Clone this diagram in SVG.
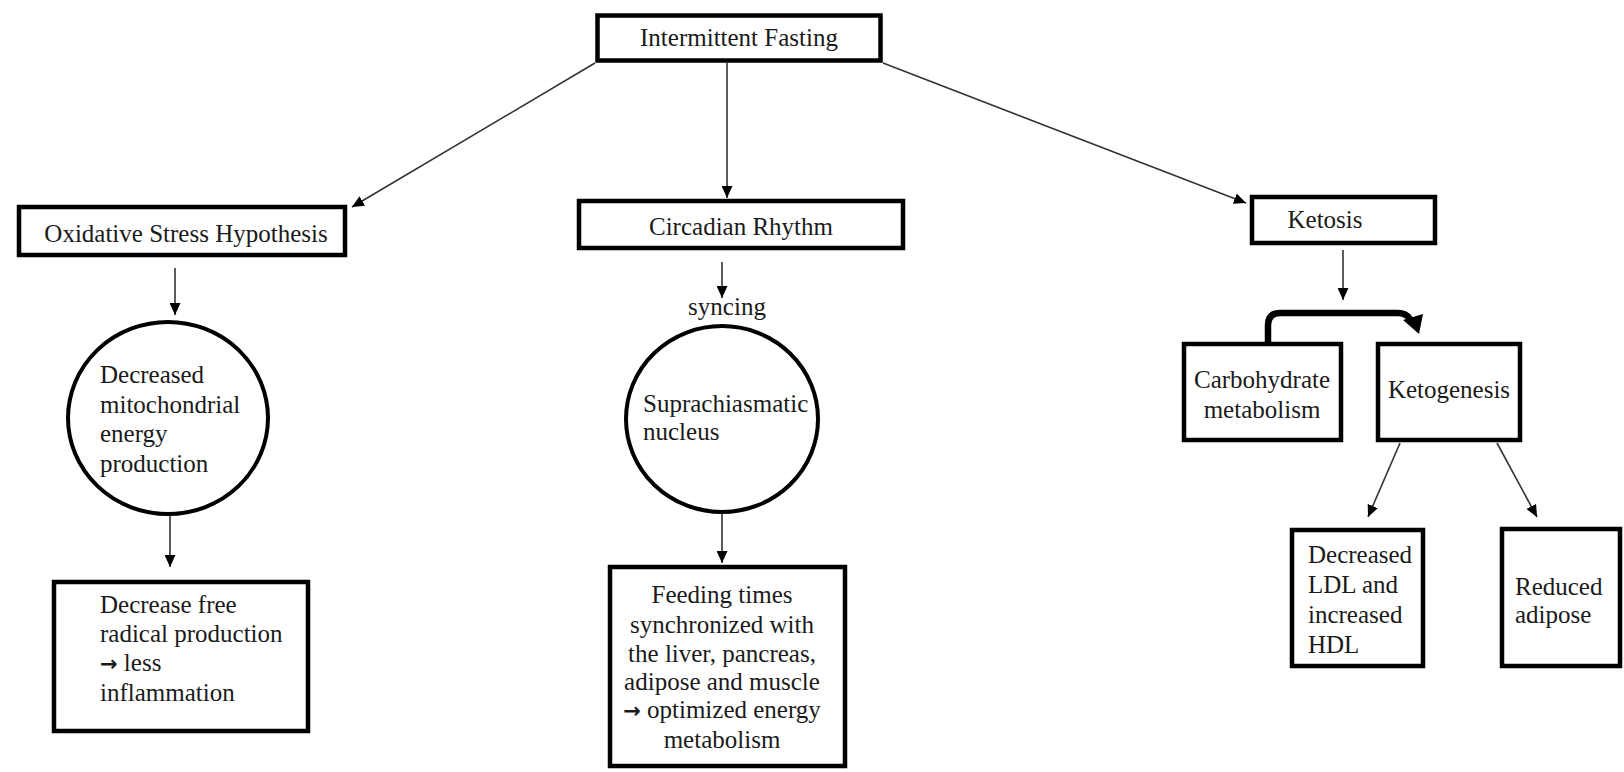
<svg xmlns="http://www.w3.org/2000/svg" width="1624" height="772" viewBox="0 0 1624 772">
<style>
.box{fill:#fff;stroke:#000;stroke-width:4.5}
.circ{fill:#fff;stroke:#000;stroke-width:4}
.t{font-family:"Liberation Serif","Times New Roman",serif;font-size:25px;fill:#1a1a1a}
.c{text-anchor:middle}
.arr{font-family:"DejaVu Sans",sans-serif;font-size:21px;font-weight:bold}
.ln{stroke:#333;stroke-width:1.6;fill:none;marker-end:url(#ah)}
</style>
<defs>
<marker id="ah" markerUnits="userSpaceOnUse" markerWidth="12" markerHeight="11" refX="12" refY="5.5" orient="auto">
<path d="M0,0 L12,5.5 L0,11 z" fill="#000"/>
</marker>
</defs>
<rect width="1624" height="772" fill="#fff"/>
<g id="connectors">
<line class="ln" x1="595" y1="63" x2="352" y2="207"/>
<line class="ln" x1="727" y1="63" x2="727" y2="198"/>
<line class="ln" x1="883" y1="63" x2="1246" y2="203"/>
<line class="ln" x1="175" y1="268" x2="175" y2="315"/>
<line class="ln" x1="170" y1="515" x2="170" y2="567"/>
<line class="ln" x1="722" y1="262" x2="722" y2="298"/>
<line class="ln" x1="722" y1="513" x2="722" y2="563"/>
<line class="ln" x1="1343" y1="250" x2="1343" y2="300"/>
<path d="M1268,342 V325 Q1268,313 1280,313 H1398 Q1406,313 1410,319" fill="none" stroke="#000" stroke-width="6.5"/>
<polygon points="1403,320 1423,314 1419,334" fill="#000"/>
<line class="ln" x1="1400" y1="443" x2="1368" y2="517"/>
<line class="ln" x1="1497" y1="443" x2="1537" y2="517"/>
</g>
<g id="intermittent-fasting">
<rect class="box" x="597.5" y="15.5" width="283" height="45" stroke-width="5"/>
<text class="t c" x="739" y="46">Intermittent Fasting</text>
</g>
<g id="oxidative-stress">
<rect class="box" x="19" y="207" width="326" height="48"/>
<text class="t c" x="186" y="242">Oxidative Stress Hypothesis</text>
</g>
<g id="circadian-rhythm">
<rect class="box" x="579" y="201" width="324" height="47"/>
<text class="t c" x="741" y="235">Circadian Rhythm</text>
</g>
<g id="ketosis">
<rect class="box" x="1252" y="197" width="183" height="46"/>
<text class="t c" x="1325" y="228">Ketosis</text>
</g>
<g id="mitochondrial">
<ellipse class="circ" cx="168" cy="418" rx="100" ry="96"/>
<text class="t" x="100" y="383">Decreased</text>
<text class="t" x="100" y="413">mitochondrial</text>
<text class="t" x="100" y="442">energy</text>
<text class="t" x="100" y="472">production</text>
</g>
<g id="free-radical">
<rect class="box" x="54" y="582" width="254" height="149"/>
<text class="t" x="100" y="613">Decrease free</text>
<text class="t" x="100" y="642">radical production</text>
<text class="t" x="100" y="671"><tspan class="arr">→</tspan> less</text>
<text class="t" x="100" y="701">inflammation</text>
</g>
<g id="syncing-label">
<text class="t c" x="727" y="315">syncing</text>
</g>
<g id="suprachiasmatic">
<ellipse class="circ" cx="722" cy="419" rx="96" ry="93"/>
<text class="t" x="643" y="412">Suprachiasmatic</text>
<text class="t" x="643" y="440">nucleus</text>
</g>
<g id="feeding-times">
<rect class="box" x="610" y="567" width="235" height="199"/>
<text class="t c" x="722" y="603">Feeding times</text>
<text class="t c" x="722" y="633">synchronized with</text>
<text class="t c" x="722" y="662">the liver, pancreas,</text>
<text class="t c" x="722" y="690">adipose and muscle</text>
<text class="t c" x="722" y="718"><tspan class="arr">→</tspan> optimized energy</text>
<text class="t c" x="722" y="748">metabolism</text>
</g>
<g id="carbohydrate">
<rect class="box" x="1184" y="344" width="157" height="96"/>
<text class="t c" x="1262" y="388">Carbohydrate</text>
<text class="t c" x="1262" y="418">metabolism</text>
</g>
<g id="ketogenesis">
<rect class="box" x="1378" y="344" width="142" height="96"/>
<text class="t c" x="1449" y="398">Ketogenesis</text>
</g>
<g id="ldl-hdl">
<rect class="box" x="1292" y="530" width="131" height="136"/>
<text class="t" x="1308" y="563">Decreased</text>
<text class="t" x="1308" y="593">LDL and</text>
<text class="t" x="1308" y="623">increased</text>
<text class="t" x="1308" y="653">HDL</text>
</g>
<g id="reduced-adipose">
<rect class="box" x="1502" y="529" width="118" height="137"/>
<text class="t" x="1515" y="595">Reduced</text>
<text class="t" x="1515" y="623">adipose</text>
</g>
</svg>
